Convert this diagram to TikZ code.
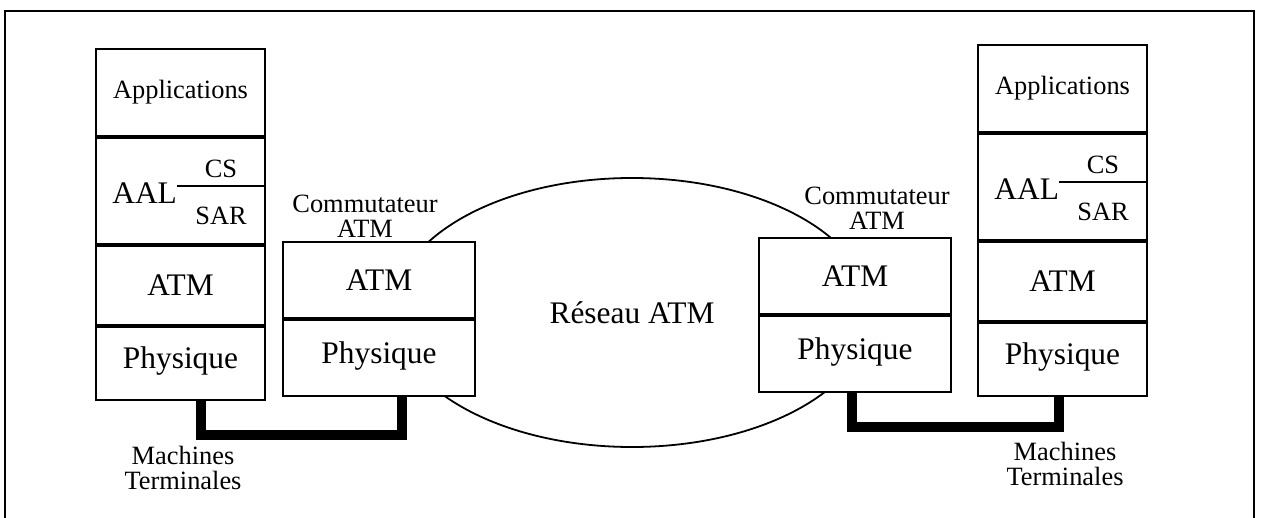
\documentclass[tikz,border=0pt]{standalone}
\usepackage{fontspec}
\setmainfont{Liberation Serif}
\usetikzlibrary{positioning,shapes.geometric}

\newcommand{\bigtxt}{\fontsize{15.7}{18}\selectfont}
\newcommand{\smalltxt}{\fontsize{13.2}{12.3}\selectfont}

\tikzset{
  layer/.style={draw,fill=white,line width=1pt,inner sep=0pt,minimum width=84.5pt,font=\bigtxt},
  switchlayer/.style={layer,minimum width=96pt,minimum height=38pt},
  caption/.style={font=\smalltxt,align=center,inner sep=0pt},
  link/.style={line width=5pt,line join=miter},
}

\begin{document}
\begin{tikzpicture}[x=0.5pt,y=-0.5pt]
  \useasboundingbox (0,0) rectangle (1261,518);
  \draw[line width=0.75pt] (5,518) |- (1254,11) -- (1254,518);

  % reseau
  \node[ellipse,draw,line width=0.9pt,minimum width=239pt,minimum height=134.5pt,
        font=\bigtxt] (net) at (632,312.5) {Réseau ATM};

  % commutateurs
  \foreach \s/\x/\y in {l/282/241,r/758/237}{
    \node[switchlayer,anchor=north west] (\s-satm) at (\x,\y) {ATM};
    \node[switchlayer,text depth=0.5em,below=0pt of \s-satm] (\s-sphy) {Physique};
  }
  \node[caption] (l-com) at (365,216) {Commutateur\\ATM};
  \node[caption] (r-com) at (877,208) {Commutateur\\ATM};

  % machines terminales
  \foreach \s/\x/\y in {l/95/48,r/977/44}{
    \node[layer,minimum height=43.5pt,anchor=north west,font=\smalltxt] (\s-app) at (\x,\y) {Applications};
    \node[layer,minimum height=53pt,below=0pt of \s-app] (\s-aal) {};
    \node[layer,minimum height=39.5pt,below=0pt of \s-aal] (\s-atm) {ATM};
    \node[layer,minimum height=36.5pt,text depth=0.55em,below=0pt of \s-atm] (\s-phy) {Physique};
    \node[anchor=west,inner sep=0pt,font=\bigtxt] (\s-aaltxt) at ([xshift=8.5pt,yshift=-1pt]\s-aal.west) {AAL};
    \coordinate (\s-cut) at ([yshift=3.5pt]\s-aaltxt.east);
    \draw[line width=1pt] (\s-cut) -- (\s-cut -| \s-aal.east);
    \node[caption] (\s-cs) at ([xshift=-22.5pt,yshift=8.5pt]\s-cut -| \s-aal.east) {CS};
    \node[caption] (\s-sar) at ([xshift=-22.5pt,yshift=-15pt]\s-cut -| \s-aal.east) {SAR};
  }
  \node[caption] (l-mt) at (183,468) {Machines\\Terminales};
  \node[caption] (r-mt) at (1065,464) {Machines\\Terminales};

  % liaisons
  \draw[link] ([xshift=10.25pt]l-phy.south) -- ++(0,34) -| ([xshift=11.25pt]l-sphy.south);
  \draw[link] ([xshift=-1.5pt]r-sphy.south) -- ++(0,34) -| ([xshift=-1.75pt]r-phy.south);
\end{tikzpicture}
\end{document}
